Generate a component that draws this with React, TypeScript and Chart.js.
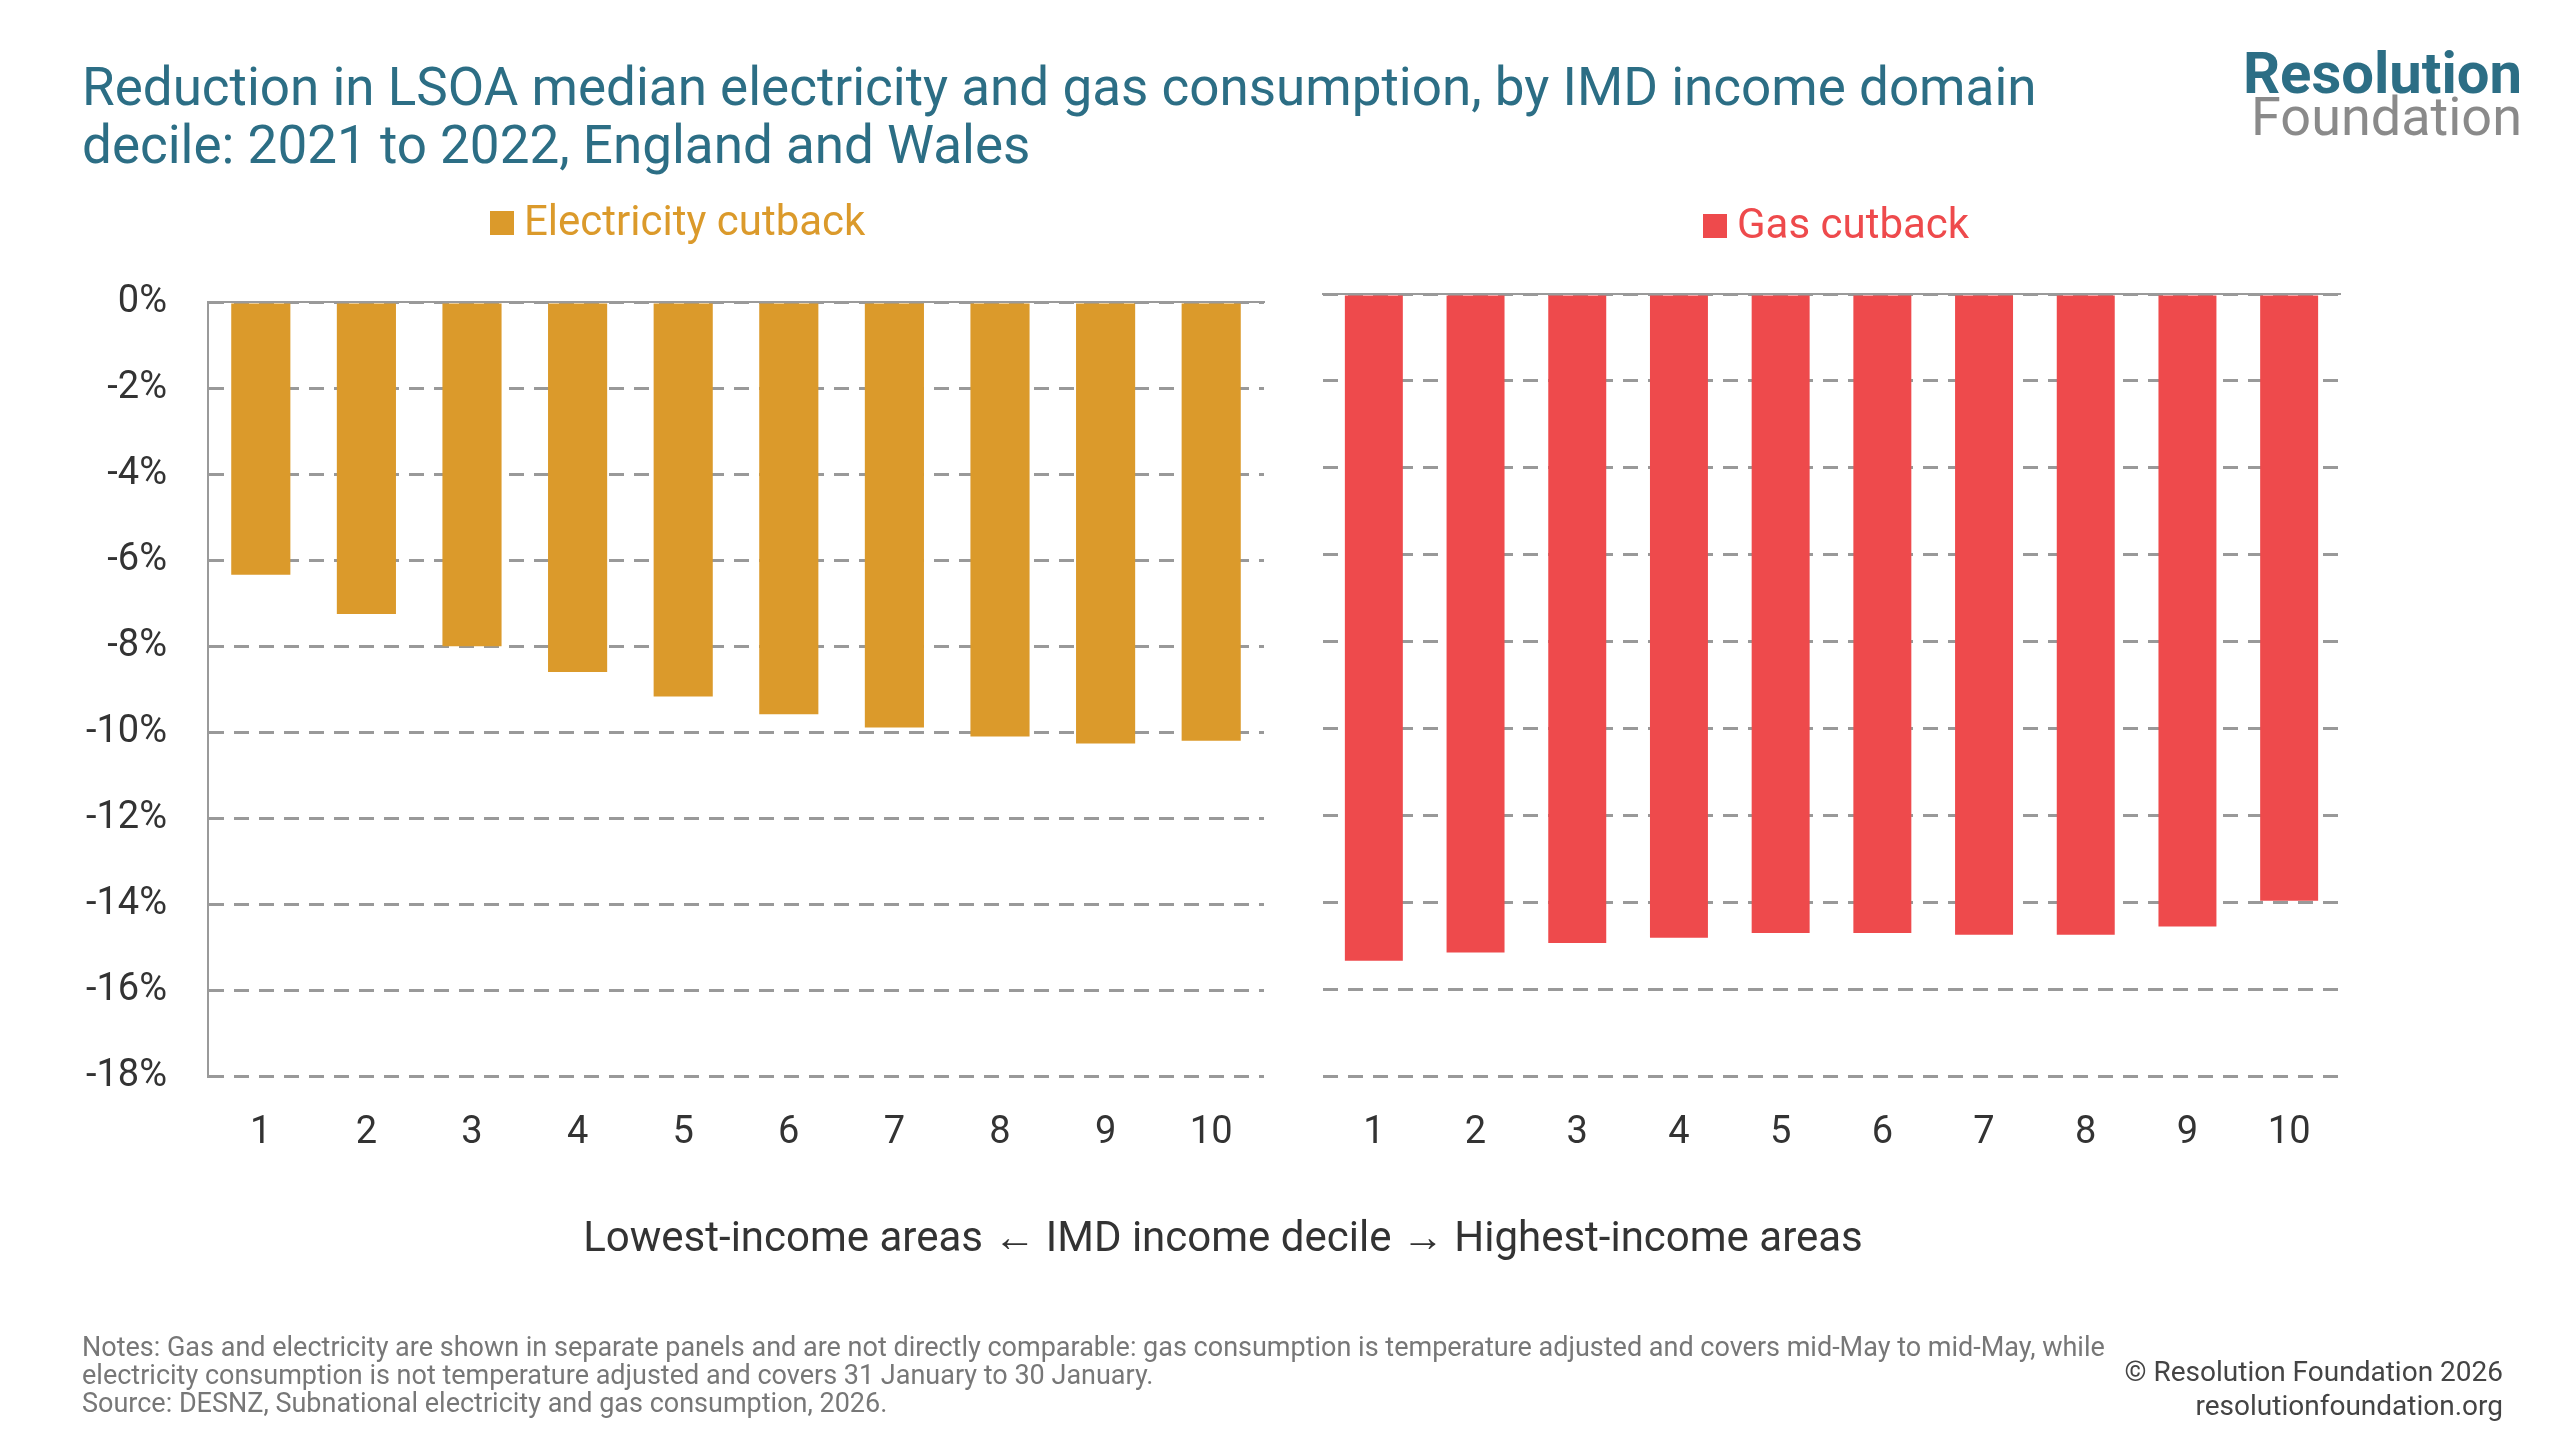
import { useEffect, useRef } from "react";
import { Chart, registerables } from "chart.js";

Chart.register(...registerables);

const deciles = ["1", "2", "3", "4", "5", "6", "7", "8", "9", "10"];
const electricity = [-6.34, -7.25, -8.0, -8.6, -9.17, -9.58, -9.89, -10.1, -10.26, -10.2];
const gas = [-15.34, -15.15, -14.93, -14.81, -14.7, -14.7, -14.74, -14.74, -14.55, -13.96];
const yTicks = [0, -2, -4, -6, -8, -10, -12, -14, -16, -18];

const FONT = "Roboto, sans-serif";
const GRID = "#999999";

function makeConfig(data: number[], color: string, left: boolean, pad: any, barPct: number) {
  return {
    type: "bar" as const,
    data: {
      labels: deciles,
      datasets: [{ data, backgroundColor: color, categoryPercentage: 1, barPercentage: barPct }],
    },
    options: {
      responsive: false,
      animation: false as const,
      layout: { padding: pad },
      plugins: { legend: { display: false }, tooltip: { enabled: false } },
      scales: {
        x: {
          grid: { display: false },
          border: { display: false },
          ticks: { color: "#333", font: { family: FONT, size: 38 }, padding: 26 },
        },
        x2: {
          position: "top" as const,
          grid: { display: false },
          border: { display: true, color: "#9a9a9a", width: 2 },
          ticks: { display: false },
          afterFit(s: any) { s.height = 0; },
        },
        y: {
          min: -18,
          max: 0,
          afterBuildTicks(s: any) { s.ticks = yTicks.map((v) => ({ value: v })); },
          grid: { color: GRID, lineWidth: 3, drawTicks: false },
          border: { display: left, color: "#9a9a9a", width: 2, dash: [15, 10] },
          ticks: {
            display: left,
            color: "#333",
            font: { family: FONT, size: 38 },
            padding: 41,
            callback: (v: any) => `${v}%`,
          },
          afterFit(s: any) { s.width = left ? 148 : 0; },
        },
      },
    },
  };
}

function Panel({ cfg }: { cfg: any }) {
  const ref = useRef<HTMLCanvasElement>(null);
  useEffect(() => {
    if (!ref.current) return;
    const c = new Chart(ref.current, cfg);
    return () => c.destroy();
  }, []);
  return <canvas ref={ref} width={2560} height={1440} style={{ position: "absolute", left: 0, top: 0 }} />;
}

const abs = (o: any) => ({ position: "absolute" as const, fontFamily: FONT, whiteSpace: "nowrap" as const, ...o });

export default function App() {
  return (
    <div style={{ position: "fixed", left: 0, top: 0, width: 2560, height: 1440, background: "#fff", overflow: "hidden" }}>
      <Panel cfg={makeConfig(electricity, "#DB9A2B", true, { left: 60, right: 1296, top: 302, bottom: 258 }, 0.56)} />
      <Panel cfg={makeConfig(gas, "#EE4A4C", false, { left: 1323, right: 220, top: 294, bottom: 258 }, 0.57)} />
      <div style={abs({ left: 82, top: 58, fontSize: 53, lineHeight: "58px", color: "#2c6e85" })}>
        Reduction in LSOA median electricity and gas consumption, by IMD income domain
        <br />
        decile: 2021 to 2022, England and Wales
      </div>
      <div style={abs({ right: 38, top: 40, fontSize: 58, fontWeight: 700, color: "#2c6e85", lineHeight: "66px" })}>Resolution</div>
      <div style={abs({ right: 38, top: 86, fontSize: 54, color: "#8a8a8a", lineHeight: "62px" })}>Foundation</div>
      <div style={abs({ left: 490, top: 196, fontSize: 42, color: "#DB9A2B" })}>
        <span style={{ display: "inline-block", width: 24, height: 24, background: "#DB9A2B", marginRight: 10 }} />
        Electricity cutback
      </div>
      <div style={abs({ left: 1703, top: 199, fontSize: 42, color: "#EE4A4C" })}>
        <span style={{ display: "inline-block", width: 24, height: 24, background: "#EE4A4C", marginRight: 10 }} />
        Gas cutback
      </div>
      <div style={abs({ left: 1223, top: 1212, transform: "translateX(-50%)", fontSize: 42, color: "#333" })}>
        Lowest-income areas ← IMD income decile → Highest-income areas
      </div>
      <div style={abs({ left: 82, top: 1333, fontSize: 27, lineHeight: "28px", color: "#777" })}>
        Notes: Gas and electricity are shown in separate panels and are not directly comparable: gas consumption is temperature adjusted and covers mid-May to mid-May, while
        <br />
        electricity consumption is not temperature adjusted and covers 31 January to 30 January.
        <br />
        Source: DESNZ, Subnational electricity and gas consumption, 2026.
      </div>
      <div style={abs({ right: 57, top: 1355, fontSize: 28, lineHeight: "34px", color: "#444", textAlign: "right" })}>
        © Resolution Foundation 2026
        <br />
        resolutionfoundation.org
      </div>
    </div>
  );
}
